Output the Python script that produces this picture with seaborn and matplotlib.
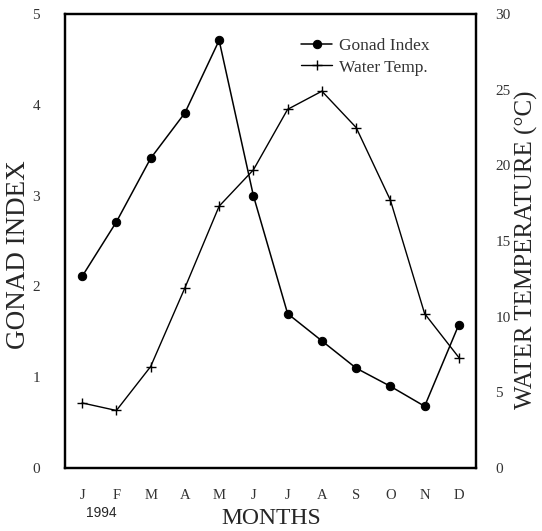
import matplotlib
matplotlib.use("Agg")
import matplotlib.pyplot as plt
import seaborn as sns
import pandas as pd
import numpy as np

months = ["J", "F", "M", "A", "M", "J", "J", "A", "S", "O", "N", "D"]
gonad_index = [2.11, 2.71, 3.41, 3.91, 4.71, 3.00, 1.70, 1.40, 1.10, 0.90, 0.68, 1.58]
water_temp = [4.3, 3.8, 6.7, 11.9, 17.3, 19.7, 23.7, 24.9, 22.5, 17.7, 10.2, 7.3]
left_ticks = [0, 1, 2, 3, 4, 5]
right_ticks = [0, 5, 10, 15, 20, 25, 30]

sns.set_style("white")
plt.rcParams["font.family"] = ["Liberation Serif", "DejaVu Serif"]

df = pd.DataFrame({"pos": np.arange(len(months)), "gonad": gonad_index, "temp": water_temp})

fig = plt.figure(figsize=(5.42, 5.31), dpi=100)
ax = fig.add_axes([65/542, 1 - 468/531, (476 - 65)/542, (468 - 14)/531])
ax2 = ax.twinx()

sns.lineplot(data=df, x="pos", y="gonad", ax=ax, color="black", lw=1.1,
             marker="o", markersize=6, markeredgecolor="black", label="Gonad Index", legend=False)
sns.lineplot(data=df, x="pos", y="temp", ax=ax2, color="black", lw=1.0,
             marker="+", markersize=7, markeredgewidth=1.0, markeredgecolor="black",
             label="Water Temp.", legend=False)

ax.set_xlim(-0.5, 11.5)
ax.set_ylim(0, 5)
ax2.set_ylim(0, 30)
ax.set_xticks(df["pos"])
ax.set_xticklabels(months)
ax.set_yticks(left_ticks)
ax2.set_yticks(right_ticks)

tick_color = "#333333"
ax.tick_params(axis="x", direction="in", length=4, width=1, pad=15, labelsize=10.5, colors="black", labelcolor=tick_color)
ax.tick_params(axis="y", length=0, pad=18, labelsize=11, labelcolor=tick_color)
ax2.tick_params(axis="y", length=0, pad=14, labelsize=11, labelcolor=tick_color)

for a in (ax, ax2):
    for s in a.spines.values():
        s.set_visible(True)
        s.set_color("black")
        s.set_linewidth(1.6)
    a.grid(False)

ax.set_xlabel("")
ax.set_ylabel("")
ax2.set_ylabel("")
fig.text(19/542, 1 - 255/531, "GONAD INDEX", ha="center", va="center", rotation=90, fontsize=19.5)
fig.text(526/542, 1 - 250/531, "WATER TEMPERATURE (°C)", ha="center", va="center", rotation=90, fontsize=18)
fig.text(271/542, 1 - 518/531, "MONTHS", ha="center", va="center", fontsize=17)
fig.text(101/542, 1 - 513/531, "1994", ha="center", va="center", fontsize=10,
         family=["Liberation Sans", "DejaVu Sans"])

h1, l1 = ax.get_legend_handles_labels()
h2, l2 = ax2.get_legend_handles_labels()
leg = ax2.legend(h1 + h2, l1 + l2, loc="upper left", bbox_to_anchor=(301/542, 1 - 38/531),
                 bbox_transform=fig.transFigure, frameon=False, fontsize=12.5,
                 handlelength=1.8, handletextpad=0.4, labelspacing=0.3, borderpad=0,
                 borderaxespad=0)
for t in leg.get_texts():
    t.set_color("#333333")

fig.savefig("out.png", dpi=100)
